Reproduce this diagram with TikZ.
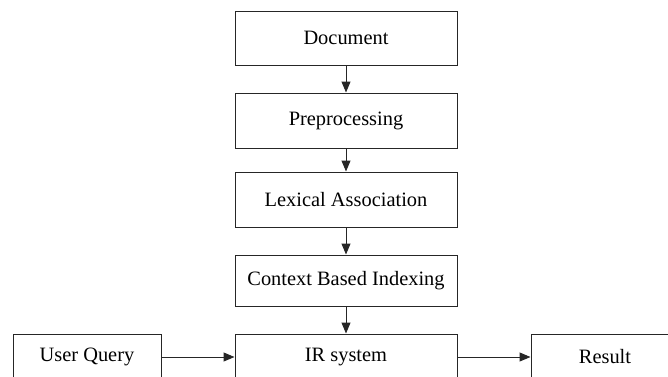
\documentclass[tikz,border=0pt]{standalone}
\usepackage{fontspec}
\setmainfont{Liberation Serif}
\usetikzlibrary{arrows.meta}
\begin{document}
\begin{tikzpicture}[x=1pt,y=-1pt,
  box/.style={draw=black!85, line width=1pt, rectangle, inner sep=0pt,
    font=\fontsize{20.4}{24}\selectfont, text=black},
  conn/.style={draw=black!85, line width=1pt, -{Triangle[length=11pt,width=9pt]}}]
\useasboundingbox (0,0) rectangle (668,376);
\node[box, minimum width=222pt, minimum height=54pt] (doc) at (346,38) {Document};
\node[box, minimum width=222pt, minimum height=55pt] (pre) at (346,120.5) {Preprocessing};
\node[box, minimum width=222pt, minimum height=55pt] (lex) at (346,199.5) {Lexical Association};
\node[box, minimum width=222pt, minimum height=51pt] (ctx) at (346,280.5) {Context Based Indexing};
\node[box, minimum width=222pt, minimum height=46pt] (ir) at (346,357) {IR system};
\node[box, minimum width=148pt, minimum height=46pt] (uq) at (87,357) {User Query};
\node[box, minimum width=148pt, minimum height=46pt] (res) at (605,357) {Result};
\node[anchor=base west, inner sep=0pt, font=\fontsize{30}{30}\selectfont] (frag) at (20,-7.2) {pp};
\draw[conn] (doc) -- (pre);
\draw[conn] (pre) -- (lex);
\draw[conn] (lex) -- (ctx);
\draw[conn] (ctx) -- (ir);
\draw[conn] (uq) -- (ir);
\draw[conn] (ir) -- (res);
\end{tikzpicture}
\end{document}
